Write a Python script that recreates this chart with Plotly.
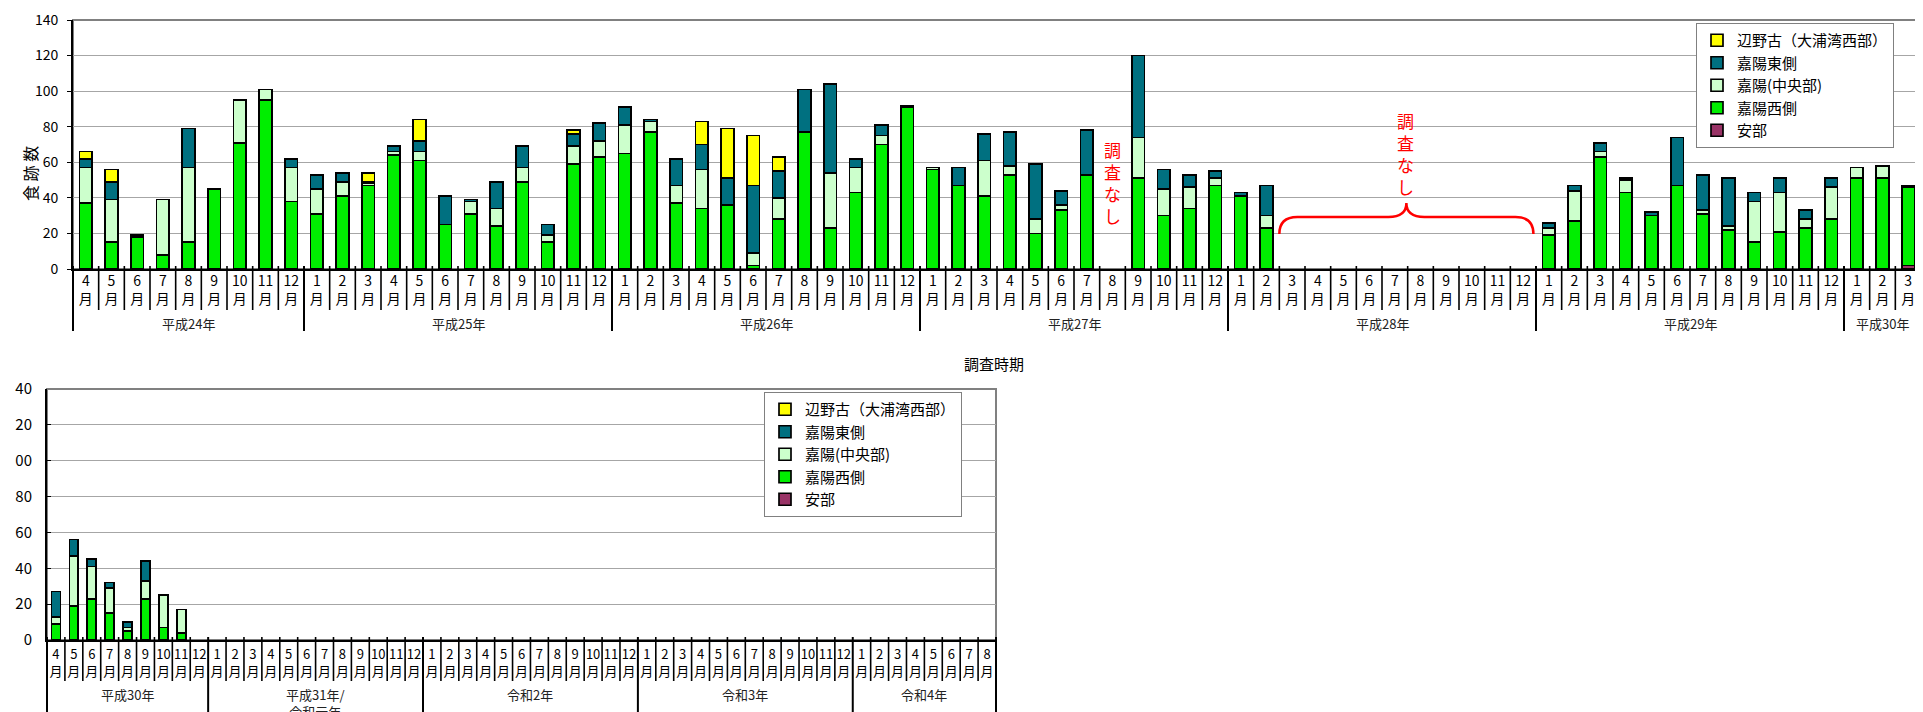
import plotly.graph_objects as go

W, H = 1923, 712
FONT = "Noto Sans CJK JP"

# ---------------- data ----------------
series_names = ["安部", "嘉陽西側", "嘉陽(中央部)", "嘉陽東側", "辺野古（大浦湾西部）"]
series_colors = ["#993366", "#00EE00", "#CCFFCC", "#007080", "#FFFF00"]

# upper chart: 平成24年4月 - 平成30年3月
top_year_labels = ["平成24年", "平成25年", "平成26年", "平成27年", "平成28年", "平成29年", "平成30年"]
top_year_months = [list(range(4, 13)), list(range(1, 13)), list(range(1, 13)), list(range(1, 13)),
                   list(range(1, 13)), list(range(1, 13)), [1, 2, 3]]

N10 = [None] * 10
top_abe = ([0] * 9 + [0] * 12 + [0] * 12 +
           [0, 0, 0, 0, 0, 0, 0, None, 0, 0, 0, 0] +
           [0, 0] + N10 + [0] * 12 + [0, 0, 2])
top_west = ([37, 15, 18, 8, 15, 45, 71, 95, 38] +
            [31, 41, 47, 64, 61, 25, 31, 24, 49, 15, 59, 63] +
            [65, 77, 37, 34, 36, 2, 28, 77, 23, 43, 70, 91] +
            [56, 47, 41, 53, 20, 33, 53, None, 51, 30, 34, 47] +
            [41, 23] + N10 +
            [19, 27, 63, 43, 30, 47, 31, 22, 15, 21, 23, 28] +
            [51, 51, 44])
top_center = ([20, 24, 0, 31, 42, 0, 24, 6, 19] +
              [14, 8, 1, 2, 5, 0, 7, 10, 8, 4, 10, 9] +
              [16, 6, 10, 22, 0, 7, 12, 0, 31, 14, 5, 0] +
              [1, 0, 20, 5, 8, 3, 0, None, 23, 15, 12, 4] +
              [0, 7] + N10 +
              [4, 17, 3, 7, 0, 0, 2, 2, 23, 22, 5, 18] +
              [6, 7, 0])
top_east = ([5, 10, 1, 0, 22, 0, 0, 0, 5] +
            [8, 5, 1, 3, 6, 16, 1, 15, 12, 6, 7, 10] +
            [10, 1, 15, 14, 15, 38, 15, 24, 50, 5, 6, 1] +
            [0, 10, 15, 19, 31, 8, 25, None, 46, 11, 7, 4] +
            [2, 17] + N10 +
            [3, 3, 5, 1, 2, 27, 20, 27, 5, 8, 5, 5] +
            [0, 0, 1])
top_henoko = ([4, 7, 0, 0, 0, 0, 0, 0, 0] +
              [0, 0, 5, 0, 12, 0, 0, 0, 0, 0, 2, 0] +
              [0, 0, 0, 13, 28, 28, 8, 0, 0, 0, 0, 0] +
              [0, 0, 0, 0, 0, 0, 0, None, 0, 0, 0, 0] +
              [0, 0] + N10 +
              [0] * 12 +
              [0, 0, 0])

# lower chart: 平成30年4月 - 令和4年8月
bot_year_labels = ["平成30年", "平成31年/<br>令和元年", "令和2年", "令和3年", "令和4年"]
bot_year_months = [list(range(4, 13)), list(range(1, 13)), list(range(1, 13)),
                   list(range(1, 13)), list(range(1, 9))]
N45 = [None] * 45
bot_abe = [0, 0, 0, 0, 0, 0, 0, 0] + N45
bot_west = [9, 19, 23, 15, 5, 23, 7, 4] + N45
bot_center = [4, 28, 18, 14, 2, 10, 18, 13] + N45
bot_east = [14, 9, 4, 3, 3, 11, 0, 0] + N45
bot_henoko = [0, 0, 0, 0, 0, 0, 0, 0] + N45

y_tick_vals = [0, 20, 40, 60, 80, 100, 120, 140]
bot_tick_text = ["0", "20", "40", "60", "80", "00", "20", "40"]   # left digit cut off in original

no_survey_text = "調<br>査<br>な<br>し"
y_title = "食 跡 数"
x_title = "調査時期"

# ---------------- layout geometry (pixels) ----------------
TOP = dict(l=65, r=1913, t=12, b=261)
BOT = dict(l=39, r=988, t=381, b=632)


def xdom(g):
    return [g["l"] / W, g["r"] / W]


def ydom(g):
    return [1 - g["b"] / H, 1 - g["t"] / H]


def yval(g, px, vmax=140):
    return (g["b"] - px) / (g["b"] - g["t"]) * vmax


top_months = [m for ms in top_year_months for m in ms]
bot_months = [m for ms in bot_year_months for m in ms]
NT, NB = len(top_months), len(bot_months)
top_x = list(range(NT))
bot_x = list(range(NB))

fig = go.Figure()
top_data = [top_abe, top_west, top_center, top_east, top_henoko]
bot_data = [bot_abe, bot_west, bot_center, bot_east, bot_henoko]
for name, color, yt, yb in zip(series_names, series_colors, top_data, bot_data):
    fig.add_trace(go.Bar(x=top_x, y=yt, name=name, marker=dict(color=color, line=dict(color="black", width=1.7)),
                         xaxis="x", yaxis="y", legend="legend"))
    fig.add_trace(go.Bar(x=bot_x, y=yb, name=name, marker=dict(color=color, line=dict(color="black", width=1.7)),
                         xaxis="x2", yaxis="y2", legend="legend2"))

shapes = []
annotations = []


def add_axis_decor(xr, yr, g, months, year_months, year_labels, month_len, year_len, label_px):
    ph = g["b"] - g["t"]
    n = len(months)
    # frame (gray, top/right)
    shapes.append(dict(type="rect", xref=f"{xr} domain", yref=f"{yr} domain", x0=0, x1=1, y0=0, y1=1,
                       line=dict(color="#808080", width=2), layer="below"))
    bounds = [0]
    for ms in year_months:
        bounds.append(bounds[-1] + len(ms))
    for k in range(n + 1):
        ln = year_len if k in bounds else month_len
        shapes.append(dict(type="line", xref=f"{xr} domain", yref=f"{yr} domain",
                           x0=k / n, x1=k / n, y0=3 / ph, y1=-ln / ph,
                           line=dict(color="black", width=2 if k in bounds else 1.6)))
    for i, lab in enumerate(year_labels):
        c = (bounds[i] + bounds[i + 1]) / 2 / n
        annotations.append(dict(text=lab, xref=f"{xr} domain", yref=f"{yr} domain", x=c,
                                y=-(label_px - g["b"]) / ph, yanchor="top", xanchor="center",
                                showarrow=False, font=dict(size=13, color="#222222")))


add_axis_decor("x", "y", TOP, top_months, top_year_months, top_year_labels, 41, 62, 304)
add_axis_decor("x2", "y2", BOT, bot_months, bot_year_months, bot_year_labels, 41, 85, 675)

# "調査なし" vertical red texts
for (xc, ymid_px) in [(40, 174), (51.4, 145)]:
    annotations.append(dict(text=no_survey_text, xref="x", yref="y", x=xc, y=yval(TOP, ymid_px),
                            yanchor="middle", xanchor="center",
                            showarrow=False, font=dict(size=17, color="#FF0000")))

# red curly brace over the no-survey period
bx0, bx1 = 46.5, 56.4
by_end, by_mid, by_peak = yval(TOP, 226), yval(TOP, 209), yval(TOP, 195)
bxc = (bx0 + bx1) / 2
brace = (f"M {bx0},{by_end} Q {bx0},{by_mid} {bx0 + 0.7},{by_mid} L {bxc - 0.7},{by_mid} "
         f"Q {bxc},{by_mid} {bxc},{by_peak} Q {bxc},{by_mid} {bxc + 0.7},{by_mid} "
         f"L {bx1 - 0.7},{by_mid} Q {bx1},{by_mid} {bx1},{by_end}")
shapes.append(dict(type="path", xref="x", yref="y", path=brace, line=dict(color="#FF0000", width=2.5)))

annotations.append(dict(text=y_title, xref="paper", yref="paper", x=22 / W, y=1 - 166 / H,
                        xanchor="center", yanchor="middle",
                        textangle=-90, showarrow=False, font=dict(size=16, color="black")))
annotations.append(dict(text=x_title, xref="paper", yref="paper", x=986 / W, y=1 - 355 / H,
                        xanchor="center", yanchor="middle",
                        showarrow=False, font=dict(size=15, color="black")))

fig.update_layout(
    width=W, height=H, margin=dict(l=0, r=0, t=0, b=0, autoexpand=False),
    paper_bgcolor="white", plot_bgcolor="white",
    font=dict(family=FONT, color="black"),
    barmode="stack", bargap=0.5,
    xaxis=dict(domain=xdom(TOP), anchor="y", range=[-0.5, NT - 0.5], tickmode="array", tickvals=top_x,
               ticktext=[f"{m}<br>月" for m in top_months], ticks="", tickfont=dict(size=14),
               ticklabelstandoff=-2,
               showline=True, linecolor="black", linewidth=2, showgrid=False, zeroline=False,
               automargin=False),
    yaxis=dict(domain=ydom(TOP), anchor="x", range=[0, 140], tickvals=y_tick_vals, ticks="outside",
               ticklen=4, tickcolor="black", tickfont=dict(size=14), ticklabelstandoff=6,
               showline=True, linecolor="black", linewidth=2, gridcolor="#A6A6A6", zeroline=False,
               automargin=False),
    xaxis2=dict(domain=xdom(BOT), anchor="y2", range=[-0.5, NB - 0.5], tickmode="array", tickvals=bot_x,
                ticktext=[f"{m}<br>月" for m in bot_months], ticks="", tickfont=dict(size=13),
                ticklabelstandoff=1,
                showline=True, linecolor="black", linewidth=2, showgrid=False, zeroline=False,
                automargin=False),
    yaxis2=dict(domain=ydom(BOT), anchor="x2", range=[0, 140], tickvals=y_tick_vals, ticktext=bot_tick_text,
                ticks="inside", ticklen=4, tickcolor="black", tickfont=dict(size=15), ticklabelstandoff=10,
                showline=True, linecolor="black", linewidth=2, gridcolor="#A6A6A6", zeroline=False,
                automargin=False),
    legend=dict(x=1688 / W, y=1 - 15 / H, xanchor="left", yanchor="top", bgcolor="white",
                bordercolor="#808080", borderwidth=1, font=dict(size=15), traceorder="reversed",
                tracegroupgap=0),
    legend2=dict(x=756 / W, y=1 - 384 / H, xanchor="left", yanchor="top", bgcolor="white",
                 bordercolor="#808080", borderwidth=1, font=dict(size=15), traceorder="reversed",
                 tracegroupgap=0),
    shapes=shapes, annotations=annotations, showlegend=True,
)

fig.write_html("out.html")
